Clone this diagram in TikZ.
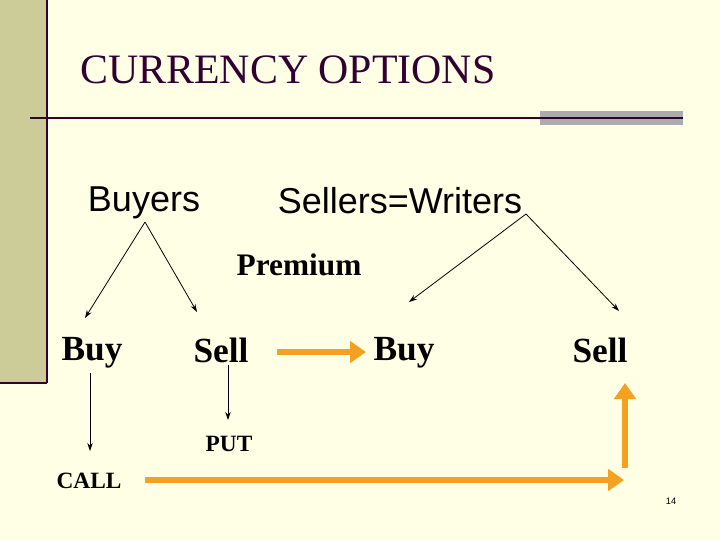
\documentclass[tikz,border=0pt]{standalone}
\usepackage{fontspec}
\setmainfont{Liberation Serif}
\newfontfamily\arialf{Liberation Sans}
\usetikzlibrary{arrows.meta}
\definecolor{bg}{HTML}{FFFFE6}
\definecolor{olive}{HTML}{CCCC99}
\definecolor{plum}{HTML}{330033}
\definecolor{org}{HTML}{F4A020}
\tikzset{
 thin arr/.style={-{Stealth[length=6pt,width=4pt]},line width=0.6pt},
 org arr/.style={-{Triangle[length=12pt,width=16pt]},line width=5pt,org},
 big/.style={font=\fontsize{26.5}{30}\selectfont\bfseries},
 sans/.style={font=\arialf\fontsize{27}{31}\selectfont},
 small/.style={font=\fontsize{17.5}{20}\selectfont\bfseries}
}
\begin{document}
\begin{tikzpicture}[x=0.75pt,y=-0.75pt]
\fill[bg] (0,0) rectangle (720,540);
\useasboundingbox (0,0) rectangle (720,540);
\fill[olive] (0,0) rectangle (47,383);
\draw[plum,line width=2.2pt] (0,383) -- (47,383);
\draw[plum,line width=1pt] (47,0) -- (47,383);
\node[anchor=base west,text=plum,font=\fontsize{31.4}{35}\selectfont,inner sep=0] (title) at (80,83) {CURRENCY OPTIONS};
\fill[gray!65] (540,111) rectangle (683,125);
\draw[plum,line width=1.3pt] (30,118) -- (683,118);
\node[sans] (buyers) at (144,203) {Buyers};
\node[sans] (sellers) at (400,201) {Sellers=Writers};
\node[font=\fontsize{23.5}{27}\selectfont\bfseries] (prem) at (299,265) {Premium};
\node[big] (b1) at (92,353) {Buy};
\node[big] (s1) at (221,350) {Sell};
\node[big] (b2) at (404,353) {Buy};
\node[big] (s2) at (600,350) {Sell};
\node[small] (put) at (229,444) {PUT};
\node[small] (call) at (89,481) {CALL};
\node[font=\arialf\fontsize{7}{8}\selectfont] (pg) at (671,501) {14};
\coordinate (bt) at (145,222);
\coordinate (st) at (526,214);
\draw[thin arr] (bt) -- (85,318);
\draw[thin arr] (bt) -- (197,312);
\draw[thin arr] (st) -- (409,302);
\draw[thin arr] (st) -- (619,311);
\draw[thin arr] (90,373) -- (90,451);
\draw[thin arr] (228,365) -- (228,420);
\draw[org arr] (277,352) -- (366,352);
\draw[org arr] (145,480) -- (624,480);
\draw[org arr] (625,468) -- (625,383);
\end{tikzpicture}
\end{document}
